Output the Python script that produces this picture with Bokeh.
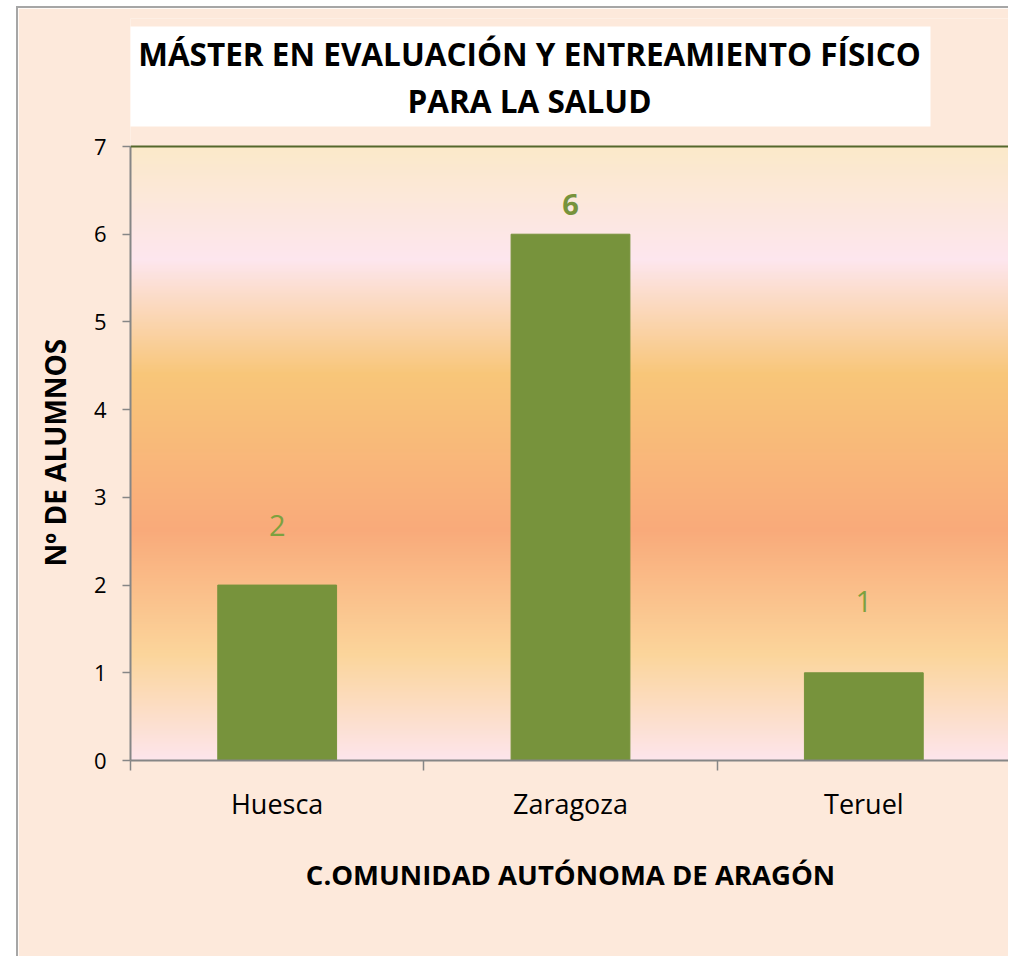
import numpy as np
from bokeh.plotting import figure
from bokeh.models import Range1d, FixedTicker, Span, Title, ColumnDataSource
from bokeh.core.properties import value, field
from bokeh.embed import file_html
from bokeh.resources import INLINE

# ---- data ----
categories = ["Huesca", "Zaragoza", "Teruel"]
alumnos = [2, 6, 1]
label_styles = ["normal", "bold", "normal"]
label_colors = ["#7DA13F", "#77933C", "#7DA13F"]
label_lift_px = [60, 30, 71]
y_ticks = [0, 1, 2, 3, 4, 5, 6, 7]
title_lines = ["MÁSTER EN EVALUACIÓN Y ENTREAMIENTO FÍSICO", "PARA LA SALUD"]
x_title = "C.OMUNIDAD AUTÓNOMA DE ARAGÓN"
y_title = "Nº DE ALUMNOS"

# background gradient stops (value on y axis -> colour)
grad_pos = [0.0, 1.21, 2.63, 4.40, 5.71, 7.0]
grad_col = ["#FDE5EC", "#FBD59B", "#F9AA7A", "#F8C679", "#FDE6EE", "#FBE9C9"]

FONT = "Open Sans"
BG = "#FDE9DB"
BAR = "#77933C"
AXIS = "#868686"

# layout (pixels): axis area 614 px tall, frame extended upward to host the title box
AXIS_PX = 614
FRAME_PX = 742
YMAX = y_ticks[-1]
y_end = YMAX * FRAME_PX / AXIS_PX
PX = YMAX / AXIS_PX            # data units per vertical pixel
XPX = len(categories) / 880    # data units per horizontal pixel

p = figure(width=992, height=950,
           x_range=Range1d(0, len(categories)), y_range=Range1d(0, y_end),
           output_backend="svg", toolbar_location=None,
           min_border_left=112, min_border_top=10, min_border_bottom=198,
           min_border_right=0)
p.styles = {"border-left": "2px solid #A6A6A6", "border-top": "2px solid #A6A6A6",
            "margin-left": "16px", "margin-top": "6px"}
p.border_fill_color = BG
p.background_fill_color = BG
p.outline_line_color = None
p.xgrid.visible = False
p.ygrid.visible = False

# gradient plot-area fill
n = 700
ys = (np.arange(n) + 0.5) / n * YMAX
rgb = np.array([[int(c[i:i + 2], 16) for i in (1, 3, 5)] for c in grad_col], dtype=float)
img = np.zeros((n, 1), dtype=np.uint32)
view = img.view(dtype=np.uint8).reshape((n, 1, 4))
for k in range(3):
    view[:, 0, k] = np.round(np.interp(ys, grad_pos, rgb[:, k])).astype(np.uint8)
view[:, 0, 3] = 255
p.image_rgba(image=[img], x=0, y=0, dw=len(categories), dh=YMAX)

# title box (white) and its two centred lines
p.quad(left=-2 * XPX, right=800 * XPX, bottom=YMAX + 20 * PX, top=YMAX + 120 * PX,
       fill_color="white", line_color=None)
p.text(x=[399 * XPX] * 2, y=[YMAX + 93 * PX, YMAX + 46 * PX], text=title_lines,
       text_align="center", text_baseline="middle",
       text_font=value(FONT), text_font_size="31.5px", text_font_style="bold",
       text_color="#000000")

# bars
xs = [i + 0.5 for i in range(len(categories))]
src = ColumnDataSource(dict(x=xs, top=alumnos, txt=[str(v) for v in alumnos],
                            style=label_styles, color=label_colors,
                            off=[-v for v in label_lift_px]))
p.vbar(x="x", top="top", width=0.405, source=src, fill_color=BAR, line_color=BAR)
p.text(x="x", y="top", text="txt", source=src, y_offset="off",
       text_align="center", text_baseline="middle",
       text_font=value(FONT), text_font_size="29px",
       text_font_style=field("style"), text_color=field("color"))

# top border line of plot area
p.add_layout(Span(location=YMAX, dimension="width", line_color="#55682C", line_width=2))

# axes
xa = p.xaxis[0]
xa.ticker = FixedTicker(ticks=xs, minor_ticks=list(range(len(categories) + 1)))
xa.major_label_overrides = {x: c for x, c in zip(xs, categories)}
xa.major_tick_out = 0
xa.major_tick_in = 0
xa.minor_tick_out = 10
xa.minor_tick_in = 0
xa.minor_tick_line_color = AXIS
xa.minor_tick_line_width = 1.5
xa.axis_line_color = AXIS
xa.axis_line_width = 2
xa.major_label_text_font = FONT
xa.major_label_text_font_size = "27px"
xa.major_label_text_color = "#000000"
xa.major_label_standoff = 14
xa.axis_label = x_title
xa.axis_label_text_font = FONT
xa.axis_label_text_font_size = "27.5px"
xa.axis_label_text_font_style = "bold"
xa.axis_label_text_color = "#000000"
xa.axis_label_standoff = 31

ya = p.yaxis[0]
ya.bounds = (0, YMAX)
ya.ticker = FixedTicker(ticks=y_ticks)
ya.major_tick_out = 8
ya.major_tick_in = 0
ya.major_tick_line_color = AXIS
ya.major_tick_line_width = 1.5
ya.minor_tick_line_color = None
ya.axis_line_color = AXIS
ya.axis_line_width = 2
ya.major_label_text_font = FONT
ya.major_label_text_font_size = "22px"
ya.major_label_text_color = "#000000"
ya.major_label_standoff = 16

# y-axis title, centred on the 0..7 part of the axis
ytl = Title(text=y_title, align="left", offset=194, vertical_align="middle",
            text_font=FONT, text_font_size="28px", text_font_style="bold",
            text_color="#000000", standoff=32)
p.add_layout(ytl, "left")

open("out.html", "w").write(file_html(p, INLINE))
